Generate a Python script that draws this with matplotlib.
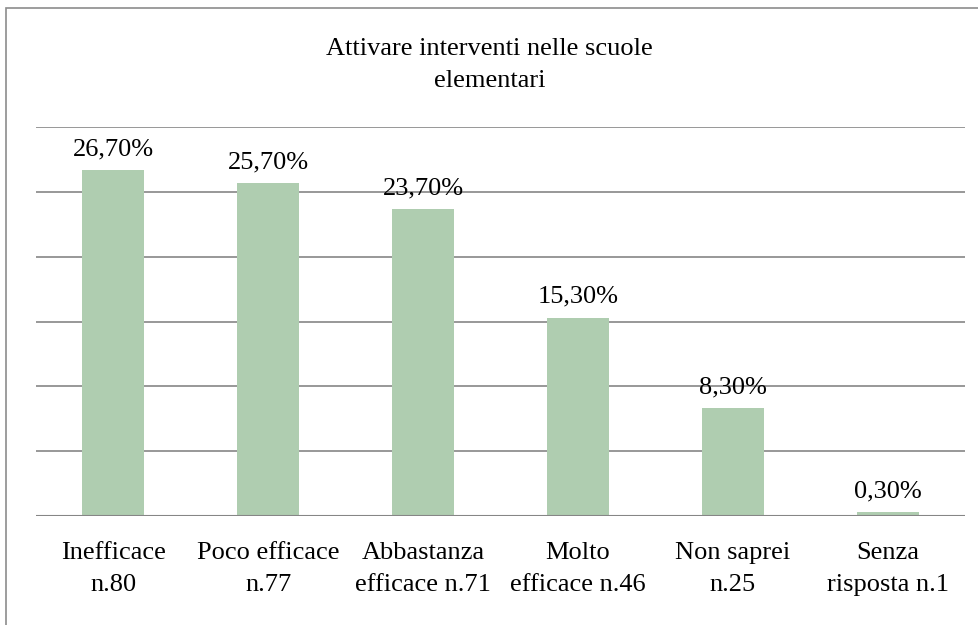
import matplotlib.pyplot as plt
from matplotlib.patches import Rectangle

# Data
categories = ['Inefficace\nn.80', 'Poco efficace\nn.77', 'Abbastanza\nefficace n.71',
              'Molto\nefficace n.46', 'Non saprei\nn.25', 'Senza\nrisposta n.1']
values = [26.7, 25.7, 23.7, 15.3, 8.3, 0.3]
value_labels = ['26,70%', '25,70%', '23,70%', '15,30%', '8,30%', '0,30%']
title = 'Attivare interventi nelle scuole\nelementari'

plt.rcParams['font.family'] = ['Liberation Serif', 'DejaVu Serif']

fig = plt.figure(figsize=(9.79, 6.25), dpi=100)
ax = fig.add_axes([0.0368, 0.1744, 0.9489, 0.6224])

# outer frame of the chart (cut off at right and bottom, as in the source image)
fig.patches.append(Rectangle((6 / 979, -0.05), 1.1, 1.05 - 8 / 625, transform=fig.transFigure,
                             fill=False, edgecolor='#8c8c8c', linewidth=1.2))

x = range(len(categories))
ax.bar(x, values, width=0.4, color='#afcdb0', zorder=3)
for i, v in enumerate(values):
    ax.text(i, v + 0.75, value_labels[i], ha='center', va='bottom', fontsize=19, zorder=4)

ax.set_xlim(-0.5, len(categories) - 0.5)
ax.set_ylim(0, 30)
ax.set_yticks(range(0, 31, 5))
ax.set_yticklabels([])
ax.tick_params(axis='y', length=0)
ax.grid(axis='y', color='#868686', linewidth=1.2, zorder=0)
for s in ax.spines.values():
    s.set_visible(False)
ax.axhline(0, color='#868686', linewidth=1.5, zorder=4)

ax.set_xticks(list(x))
ax.set_xticklabels(categories, fontsize=19, linespacing=1.55)
ax.tick_params(axis='x', length=0, pad=19)

fig.text(0.5, 0.896, title, ha='center', va='center', fontsize=19, linespacing=1.55)

fig.savefig('out.png', dpi=100)
